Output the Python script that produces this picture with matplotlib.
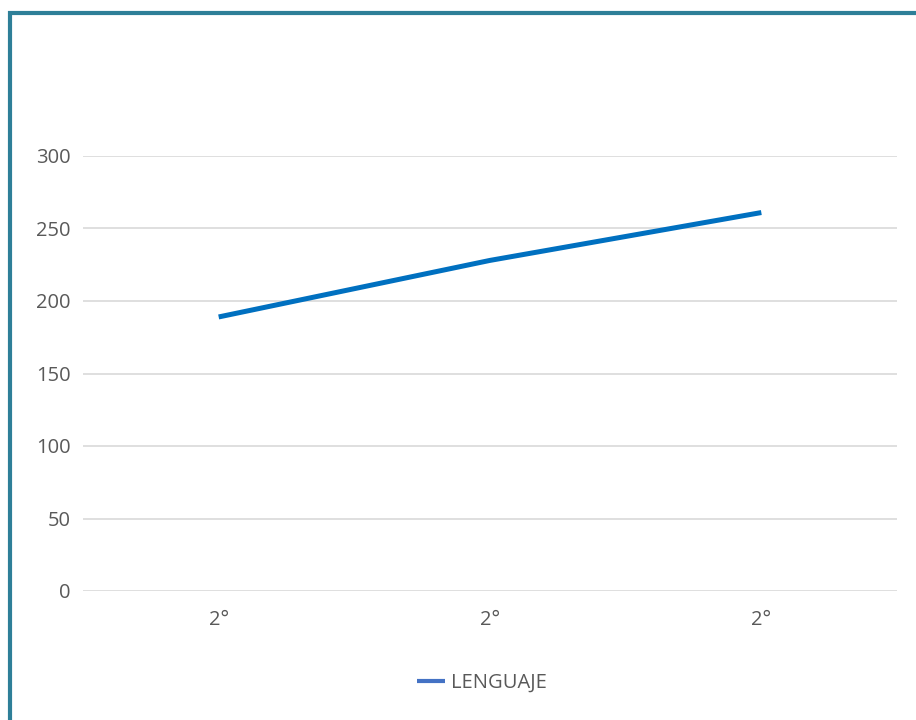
import matplotlib.pyplot as plt
from matplotlib.lines import Line2D

# datos
grados = ["2°", "2°", "2°"]
lenguaje = [189, 228, 261]
ticks_y = [0, 50, 100, 150, 200, 250, 300]

plt.rcParams['font.family'] = ['Open Sans', 'DejaVu Sans']

fig = plt.figure(figsize=(9.16, 7.2), dpi=100)
ax = fig.add_axes([83 / 916, 1 - 591 / 720, (897 - 83) / 916, (591 - 156) / 720])

x = range(len(grados))
ax.plot(x, lenguaje, color='#0070C0', linewidth=3.6, solid_capstyle='butt', label='LENGUAJE')

ax.set_xlim(-0.5, len(grados) - 0.5)
ax.set_ylim(0, 300)
ax.set_yticks(ticks_y)
ax.set_xticks(list(x))
ax.set_xticklabels(grados)
ax.grid(axis='y', color='#D9D9D9', linewidth=1.2)
ax.set_axisbelow(True)
for s in ax.spines.values():
    s.set_visible(False)
ax.tick_params(length=0, colors='#595959', labelsize=14.5)
ax.tick_params(axis='y', pad=9)
ax.tick_params(axis='x', pad=14)

leg = fig.legend(handles=[Line2D([], [], color='#4472C4', linewidth=3, solid_capstyle='butt')],
                 labels=['LENGUAJE'], loc='center', bbox_to_anchor=(482 / 916, 1 - 683 / 720),
                 frameon=False, fontsize=14.5, handlelength=1.35, handletextpad=0.3)
for t in leg.get_texts():
    t.set_color('#595959')

# marco
fig.add_artist(Line2D([8 / 916, 1], [1 - 12.5 / 720] * 2, color='#2E7F98', linewidth=3,
                      solid_capstyle='butt'))
fig.add_artist(Line2D([10 / 916] * 2, [0, 1 - 10.5 / 720], color='#2E7F98', linewidth=3,
                      solid_capstyle='butt'))

plt.savefig('out.png', dpi=100)
